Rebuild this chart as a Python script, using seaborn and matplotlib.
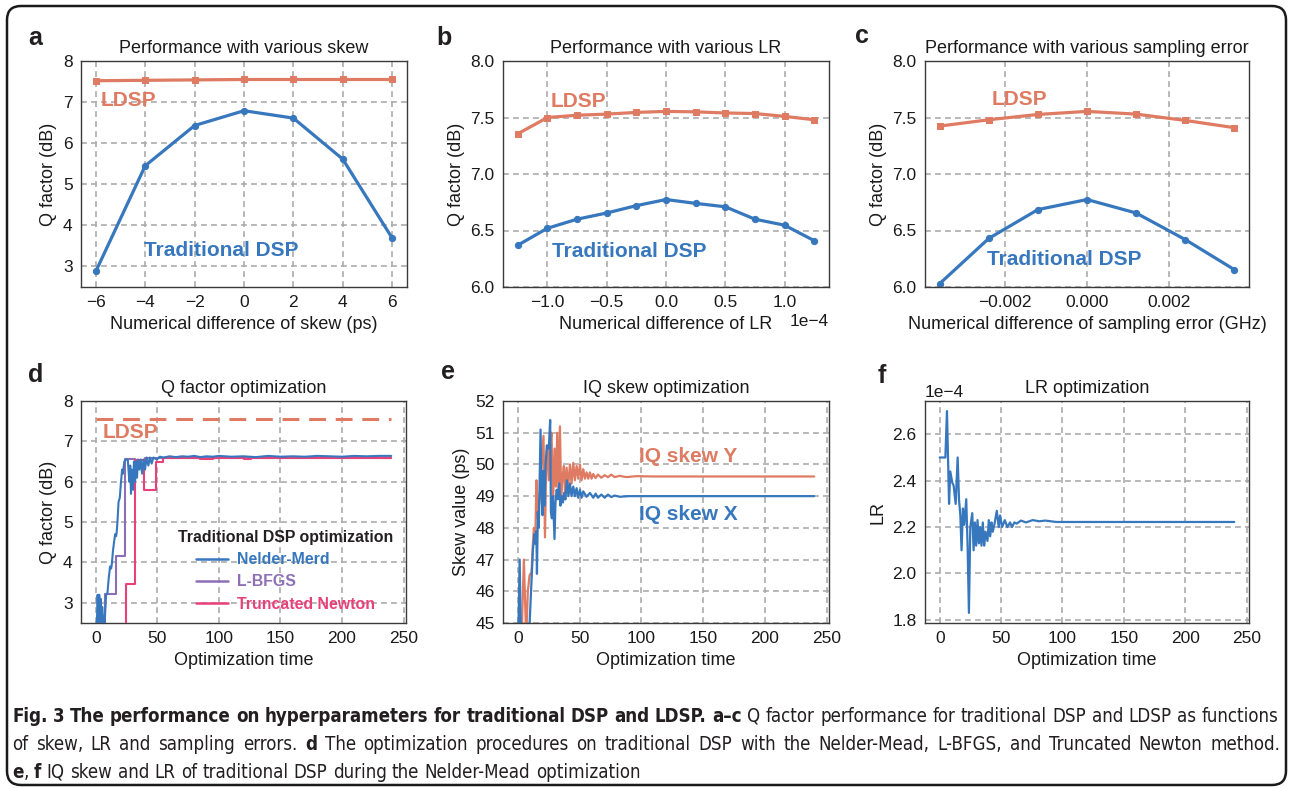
import numpy as np
import pandas as pd
import matplotlib
matplotlib.use("Agg")
import matplotlib.pyplot as plt
import seaborn as sns
from matplotlib.patches import FancyBboxPatch
from matplotlib import font_manager
from matplotlib.font_manager import FontProperties

# ---------------- data ----------------
skew_x = [-6, -4, -2, 0, 2, 4, 6]
skew_ldsp = [7.52, 7.53, 7.54, 7.55, 7.55, 7.55, 7.55]
skew_trad = [2.88, 5.45, 6.43, 6.79, 6.61, 5.61, 3.69]

lr_x = [-1.25e-4, -1.0e-4, -0.75e-4, -0.5e-4, -0.25e-4, 0.0, 0.25e-4, 0.5e-4, 0.75e-4, 1.0e-4, 1.25e-4]
lr_ldsp = [7.356, 7.50, 7.52, 7.53, 7.545, 7.554, 7.55, 7.54, 7.535, 7.51, 7.48]
lr_trad = [6.37, 6.52, 6.60, 6.655, 6.72, 6.774, 6.74, 6.71, 6.60, 6.547, 6.41]

se_x = [-0.0036, -0.0024, -0.0012, 0.0, 0.0012, 0.0024, 0.0036]
se_ldsp = [7.424, 7.48, 7.527, 7.554, 7.53, 7.474, 7.41]
se_trad = [6.03, 6.43, 6.685, 6.774, 6.655, 6.42, 6.154]

# panel d: optimisation traces (vertices)
nm_t = [0, 1, 1.5, 2.2, 2.8, 3.3, 4.0, 4.5, 5.2, 6.0, 7.0, 8.4, 9.5, 10.5, 11.6, 12.5, 13.0, 14.0,
        15.7, 16.5, 17.0, 17.6, 18.5, 19.5, 20.5, 21.4, 22.0, 23.2, 24.6, 26.0, 27.3, 28.0, 28.6,
        29.3, 30.3, 31.0, 31.9, 32.7, 33.5, 34.3, 35.4, 36.5, 37.6, 38.8, 40.0, 41.3, 42.7, 44.0,
        45.4, 46.8, 49.5, 52, 55, 60, 65, 70, 75, 80, 85, 90, 95, 100, 110, 120, 130, 140, 150,
        160, 170, 180, 190, 200, 210, 220, 230, 240]
nm_q = [2.3, 2.6, 3.2, 2.5, 3.2, 2.6, 3.1, 2.5, 2.9, 2.6, 2.4, 3.2, 3.25, 3.6, 3.9, 3.85, 3.95, 4.3,
        4.7, 4.65, 4.75, 5.0, 5.5, 5.6, 6.0, 6.3, 6.2, 6.5, 6.55, 6.55, 6.0, 6.4, 5.7,
        6.3, 5.8, 6.5, 6.0, 6.5, 6.1, 6.55, 6.3, 6.55, 6.2, 6.55, 6.3, 6.6, 6.4, 6.6,
        6.45, 6.6, 6.55, 6.62, 6.6, 6.63, 6.61, 6.63, 6.62, 6.64, 6.61, 6.63, 6.62, 6.64, 6.62, 6.63,
        6.61, 6.64, 6.62, 6.63, 6.62, 6.64, 6.63, 6.62, 6.64, 6.63, 6.64, 6.64]
lbfgs_t = [7.6, 7.6, 16.2, 16.2, 23.8, 23.8, 32.0, 32.0, 40.0, 40.0, 240]
lbfgs_q = [2.0, 3.22, 3.22, 4.15, 4.15, 6.56, 6.56, 6.53, 6.53, 6.6, 6.6]
tn_t = [24.3, 24.3, 31.9, 31.9, 39.0, 39.0, 48.6, 48.6, 55.0, 55.0, 85, 85, 95, 95, 120, 120, 126, 126, 240]
tn_q = [2.0, 3.47, 3.47, 6.53, 6.53, 5.8, 5.8, 6.48, 6.48, 6.58, 6.58, 6.57, 6.57, 6.59, 6.59, 6.57, 6.57, 6.59, 6.59]
ldsp_level = [7.55, 7.55]
ldsp_t = [0, 240]

# panel e: IQ skew traces
iqy_t = [3.0, 4.9, 6.8, 8.1, 9.5, 11.1, 12.2, 13.0, 14.1, 15.1, 16.2, 17.6, 19.2, 20.8, 22.0, 23.0,
         24.0, 25.1, 26.2, 27.3, 28.4, 29.7, 30.8, 31.9, 33.0, 34.1, 35.1, 36.2, 37.3, 38.4, 39.5,
         40.8, 42.2, 43.5, 44.9, 46.2, 47.6, 48.9, 50.3, 51.6, 53.0, 54.3, 55.7, 57.0, 58.4, 59.7,
         61.1, 63.0, 64.9, 67.6, 70.3, 73.0, 75.7, 78.4, 82.4, 87.8, 95.9, 110, 240]
iqy_v = [44.5, 47.0, 44.5, 46.0, 46.5, 46.6, 47.5, 48.0, 47.6, 49.5, 48.3, 48.9, 50.0, 50.9, 47.7, 50.0,
         50.6, 49.5, 50.6, 51.0, 48.6, 50.5, 49.3, 51.0, 49.0, 51.2, 49.0, 49.6, 49.95, 48.9, 49.9,
         49.3, 50.0, 49.4, 50.05, 49.5, 49.95, 49.55, 50.0, 49.5, 49.85, 49.55, 49.75, 49.55, 49.75, 49.55,
         49.7, 49.57, 49.68, 49.58, 49.66, 49.6, 49.68, 49.6, 49.64, 49.6, 49.63, 49.62, 49.62]
iqx_t = [0.3, 1.5, 2.5, 9.0, 12.2, 13.5, 14.3, 15.0, 15.5, 16.2, 17.0, 18.4, 19.3, 20.0, 20.8, 21.5,
         22.5, 23.5, 24.5, 25.2, 26.2, 26.8, 27.6, 28.5, 29.7, 30.5, 31.5, 32.5, 33.5, 34.5, 35.5,
         36.5, 37.5, 38.5, 39.7, 41.0, 42.2, 43.5, 44.9, 46.2, 47.6, 48.9, 50.3, 51.6, 53.0, 55.7,
         58.4, 61.1, 63.0, 64.9, 67.6, 70.3, 73.0, 75.7, 78.4, 82.4, 90, 240]
iqx_v = [44.5, 47.0, 44.5, 44.5, 47.3, 47.8, 47.5, 47.9, 46.55, 48.5, 48.0, 51.1, 49.0, 48.4, 49.8, 48.7,
         50.0, 50.6, 50.5, 50.6, 51.4, 48.5, 48.3, 49.0, 47.65, 48.8, 49.2, 48.9, 49.4, 48.7, 49.0,
         48.8, 49.1, 48.9, 49.5, 49.0, 49.4, 49.0, 49.3, 49.0, 49.25, 48.95, 49.2, 48.95, 49.15, 48.98,
         49.1, 48.95, 49.08, 48.95, 49.05, 48.95, 49.05, 48.97, 49.02, 48.98, 49.0, 49.0]

# panel f: LR trace (x1e-4)
lr_t = [0, 4.6, 5.9, 7.6, 8.6, 10.3, 11.3, 13.0, 14.6, 15.7, 16.8, 17.8, 18.9, 20.0, 21.6, 22.7, 23.8,
        24.9, 26.5, 27.6, 28.6, 29.7, 30.8, 31.9, 33.0, 34.0, 35.1, 36.2, 37.3, 38.9, 40.0, 41.1, 42.2,
        43.2, 44.5, 46.5, 48.1, 49.2, 50.8, 53.0, 55.1, 57.3, 58.9, 60.8, 62.7, 66.2, 70.3, 75.7, 81,
        86, 95, 240]
lr_v = [2.50, 2.50, 2.70, 2.30, 2.44, 2.39, 2.38, 2.30, 2.50, 2.32, 2.25, 2.10, 2.28, 2.21, 2.32, 2.12, 1.83,
        2.20, 2.26, 2.10, 2.22, 2.12, 2.23, 2.13, 2.20, 2.12, 2.22, 2.12, 2.18, 2.14, 2.23, 2.16, 2.22,
        2.18, 2.21, 2.27, 2.20, 2.25, 2.20, 2.23, 2.20, 2.22, 2.20, 2.22, 2.215, 2.228, 2.22, 2.23, 2.225,
        2.228, 2.222, 2.222]
lr_v = [v * 1e-4 for v in lr_v]

yt_q = [3, 4, 5, 6, 7, 8]
yt_q2 = [6.0, 6.5, 7.0, 7.5, 8.0]
xt_time = [0, 50, 100, 150, 200, 250]
yt_skew = [45, 46, 47, 48, 49, 50, 51, 52]

# ---------------- style ----------------
BLUE = "#3777bd"
ORANGE = "#de7b62"
PURPLE = "#8d6fb6"
PINK = "#e8417a"
GRID = "#ababab"

sns.set_theme(style="white")
plt.rcParams["font.family"] = ["Liberation Sans", "DejaVu Sans"]
plt.rcParams["axes.unicode_minus"] = True

W, H = 1290, 789
fig = plt.figure(figsize=(W / 100, H / 100), dpi=100, facecolor="white")


def rect(l, t, r, b):
    return [l / W, 1 - b / H, (r - l) / W, (b - t) / H]


def style(ax, title, xlabel, ylabel):
    ax.set_title(title, fontsize=13, color="#1a1a1a", pad=6)
    ax.set_xlabel(xlabel, fontsize=13, color="#1a1a1a")
    ax.set_ylabel(ylabel, fontsize=13, color="#1a1a1a")
    ax.grid(True, linestyle=(0, (3.5, 2.5)), color=GRID, linewidth=1.2)
    ax.set_axisbelow(True)
    for s in ax.spines.values():
        s.set_visible(True)
        s.set_color("#3a3a3a")
        s.set_linewidth(1.0)
    ax.tick_params(labelsize=12.5, length=3, width=0.8, color="#555", labelcolor="#1a1a1a", pad=3)
    ax.xaxis.get_offset_text().set_fontsize(12.5)
    ax.yaxis.get_offset_text().set_fontsize(12.5)


def perf(ax, x, ldsp, trad):
    sns.lineplot(x=x, y=ldsp, ax=ax, color=ORANGE, lw=2.3, marker="s", markersize=5,
                 mec=ORANGE, estimator=None, sort=False, legend=False)
    sns.lineplot(x=x, y=trad, ax=ax, color=BLUE, lw=2.3, marker="o", markersize=4.5,
                 mec=BLUE, estimator=None, sort=False, legend=False)


lbl = dict(fontsize=15, fontweight="bold", ha="left", va="center")

# a
ax = fig.add_axes(rect(81, 61, 407, 287))
perf(ax, skew_x, skew_ldsp, skew_trad)
ax.set_ylim(2.5, 8)
ax.set_yticks(yt_q)
ax.set_xticks(skew_x)
ax.text(-5.8, 7.05, "LDSP", color=ORANGE, **lbl)
ax.text(-4.05, 3.4, "Traditional DSP", color=BLUE, **lbl)
style(ax, "Performance with various skew", "Numerical difference of skew (ps)", "Q factor (dB)")

# b
ax = fig.add_axes(rect(503, 61, 829, 287))
perf(ax, lr_x, lr_ldsp, lr_trad)
ax.set_ylim(6.0, 8.0)
ax.set_yticks(yt_q2)
ax.set_xticks([-1e-4, -0.5e-4, 0, 0.5e-4, 1e-4])
ax.ticklabel_format(axis="x", style="sci", scilimits=(0, 0))
ax.text(-0.97e-4, 7.645, "LDSP", color=ORANGE, **lbl)
ax.text(-0.96e-4, 6.31, "Traditional DSP", color=BLUE, **lbl)
style(ax, "Performance with various LR", "Numerical difference of LR", "Q factor (dB)")

# c
ax = fig.add_axes(rect(925, 61, 1249, 287))
perf(ax, se_x, se_ldsp, se_trad)
ax.set_ylim(6.0, 8.0)
ax.set_yticks(yt_q2)
ax.set_xticks([-0.002, 0.0, 0.002])
ax.text(-0.00234, 7.655, "LDSP", color=ORANGE, **lbl)
ax.text(-0.00245, 6.245, "Traditional DSP", color=BLUE, **lbl)
style(ax, "Performance with various sampling error", "Numerical difference of sampling error (GHz)", "Q factor (dB)")

# d
ax = fig.add_axes(rect(81, 401, 406, 623))
sns.lineplot(x=ldsp_t, y=ldsp_level, ax=ax, color=ORANGE, lw=2.2, estimator=None, sort=False, legend=False)
ax.lines[-1].set_dashes([5.5, 3.2])
sns.lineplot(x=nm_t, y=nm_q, ax=ax, color=BLUE, lw=1.5, estimator=None, sort=False, legend=False,
             label="Nelder-Merd", zorder=4)
sns.lineplot(x=lbfgs_t, y=lbfgs_q, ax=ax, color=PURPLE, lw=1.5, estimator=None, sort=False, legend=False,
             label="L-BFGS", zorder=2)
sns.lineplot(x=tn_t, y=tn_q, ax=ax, color=PINK, lw=1.5, estimator=None, sort=False, legend=False,
             label="Truncated Newton", zorder=3)
ax.set_ylim(2.5, 8)
ax.set_xlim(-12, 252)
ax.set_yticks(yt_q)
ax.set_xticks(xt_time)
ax.text(5.4, 7.22, "LDSP", color=ORANGE, **lbl)
h, l = ax.get_legend_handles_labels()
leg = ax.legend(h, l, title="Traditional DSP optimization", loc="lower right",
                bbox_to_anchor=(0.975, 0.03), borderaxespad=0, frameon=False,
                labelcolor="linecolor", prop={"weight": "bold", "size": 11.4},
                title_fontproperties={"weight": "bold", "size": 11.4},
                handlelength=2.0, handletextpad=0.6, labelspacing=0.45, borderpad=0.3)
leg.get_title().set_color("#231f20")
for lh in leg.legend_handles:
    lh.set_linewidth(1.8)
style(ax, "Q factor optimization", "Optimization time", "Q factor (dB)")

# e
ax = fig.add_axes(rect(503, 401, 829, 623))
sns.lineplot(x=iqy_t, y=iqy_v, ax=ax, color=ORANGE, lw=1.6, estimator=None, sort=False, legend=False)
sns.lineplot(x=iqx_t, y=iqx_v, ax=ax, color=BLUE, lw=1.6, estimator=None, sort=False, legend=False)
ax.set_ylim(45, 52)
ax.set_xlim(-12, 252)
ax.set_yticks(yt_skew)
ax.set_xticks(xt_time)
ax.text(97.8, 50.26, "IQ skew Y", color=ORANGE, **lbl)
ax.text(97.8, 48.42, "IQ skew X", color=BLUE, **lbl)
style(ax, "IQ skew optimization", "Optimization time", "Skew value (ps)")

# f
ax = fig.add_axes(rect(925, 401, 1249, 623))
sns.lineplot(x=lr_t, y=lr_v, ax=ax, color=BLUE, lw=1.6, estimator=None, sort=False, legend=False)
ax.set_xlim(-12, 252)
ax.set_xticks(xt_time)
ax.set_yticks([1.8e-4, 2.0e-4, 2.2e-4, 2.4e-4, 2.6e-4])
ax.ticklabel_format(axis="y", style="sci", scilimits=(0, 0))
style(ax, "LR optimization", "Optimization time", "LR")

# ---------------- frame, panel letters, caption ----------------
bg = fig.add_axes([0, 0, 1, 1], zorder=10)
bg.set_xlim(0, W)
bg.set_ylim(H, 0)
bg.axis("off")
bg.add_patch(FancyBboxPatch((7, 6), 1279, 779, boxstyle="round,pad=0,rounding_size=14",
                            fill=False, lw=1.8, ec="#1a1a1a"))
for ch, px, py in [("a", 35, 45), ("b", 444, 45), ("c", 862, 43), ("d", 36, 382), ("e", 448, 379), ("f", 882, 383)]:
    bg.text(px, py, ch, fontsize=18, fontweight="bold", ha="center", va="baseline", color="#231f20")

renderer = fig.canvas.get_renderer()

cap_lines = [
    [("Fig. 3 The performance on hyperparameters for traditional DSP and LDSP. a\u2013c", True),
     (" Q factor performance for traditional DSP and LDSP as functions", False)],
    [("of skew, LR and sampling errors. ", False), ("d", True),
     (" The optimization procedures on traditional DSP with the Nelder-Mead, L-BFGS, and Truncated Newton method.", False)],
    [("e", True), (", ", False), ("f", True),
     (" IQ skew and LR of traditional DSP during the Nelder-Mead optimization", False)],
]


def wnum(w):
    try:
        return int(w)
    except (TypeError, ValueError):
        return {"normal": 400, "regular": 400, "book": 400, "bold": 700}.get(str(w).lower(), -1)


# candidate caption faces (need regular + bold); pick the one whose width best matches the reference
groups = {}
for fe in font_manager.fontManager.ttflist:
    if fe.style != "normal":
        continue
    groups.setdefault((fe.name, str(fe.stretch)), set()).add(wnum(fe.weight))
cands = [(nm, st) for (nm, st), ws in groups.items()
         if 400 in ws and (700 in ws or 600 in ws)
         and ("extra" not in st and "ultra" not in st and "expanded" not in st)
         and ("extra" not in nm.lower())
         and (nm in ("Liberation Sans", "Roboto", "Open Sans", "Lato", "Noto Sans", "Inter",
                     "Liberation Sans Narrow", "DejaVu Sans Condensed")
              or "condensed" in st or "condensed" in nm.lower() or "narrow" in nm.lower())]
if not cands:
    cands = [("Liberation Sans", "normal")]


def fp(fam, size, bold):
    return FontProperties(family=[fam[0], "DejaVu Sans"], stretch=fam[1],
                          weight="bold" if bold else "normal", size=size)


def tokens_of(pieces):
    toks = []
    for text, bold in pieces:
        parts = text.split(" ")
        for i, p in enumerate(parts):
            if i > 0:
                toks.append((" ", bold))
            if p:
                toks.append((p, bold))
    return toks


def width(fam, s, size, bold):
    t = bg.text(0, 0, s, fontproperties=fp(fam, size, bold))
    w = t.get_window_extent(renderer=renderer).width
    t.remove()
    return w


def natural(fam, toks, size):
    sw = width(fam, "a a", size, False) - width(fam, "aa", size, False)
    tot = 0
    for s, b in toks:
        tot += sw if s == " " else width(fam, s, size, b)
    return tot, sw


REF_SIZE = 13.5
line1 = tokens_of(cap_lines[0])
best = None
for fam in cands:
    w1, _ = natural(fam, line1, REF_SIZE)
    fit = REF_SIZE * 1266 / w1
    score = abs(np.log(fit / REF_SIZE))
    if best is None or score < best[0]:
        best = (score, fam, fit)
cap_fam = best[1]
cap_size = float(np.clip(best[2], 11.0, 14.5))

targets = [1266, 1268, None]
baselines = [722, 750, 778]
for pieces, target, yb in zip(cap_lines, targets, baselines):
    toks = tokens_of(pieces)
    nat, sw = natural(cap_fam, toks, cap_size)
    nsp = sum(1 for s, _ in toks if s == " ")
    extra = (target - nat) / nsp if target else 0
    x = 12
    for s, b in toks:
        if s == " ":
            x += sw + extra
            continue
        t = bg.text(x, yb, s, fontproperties=fp(cap_fam, cap_size, b),
                    ha="left", va="baseline", color="#231f20")
        x += t.get_window_extent(renderer=renderer).width

fig.savefig("out.png", dpi=100, facecolor="white")
